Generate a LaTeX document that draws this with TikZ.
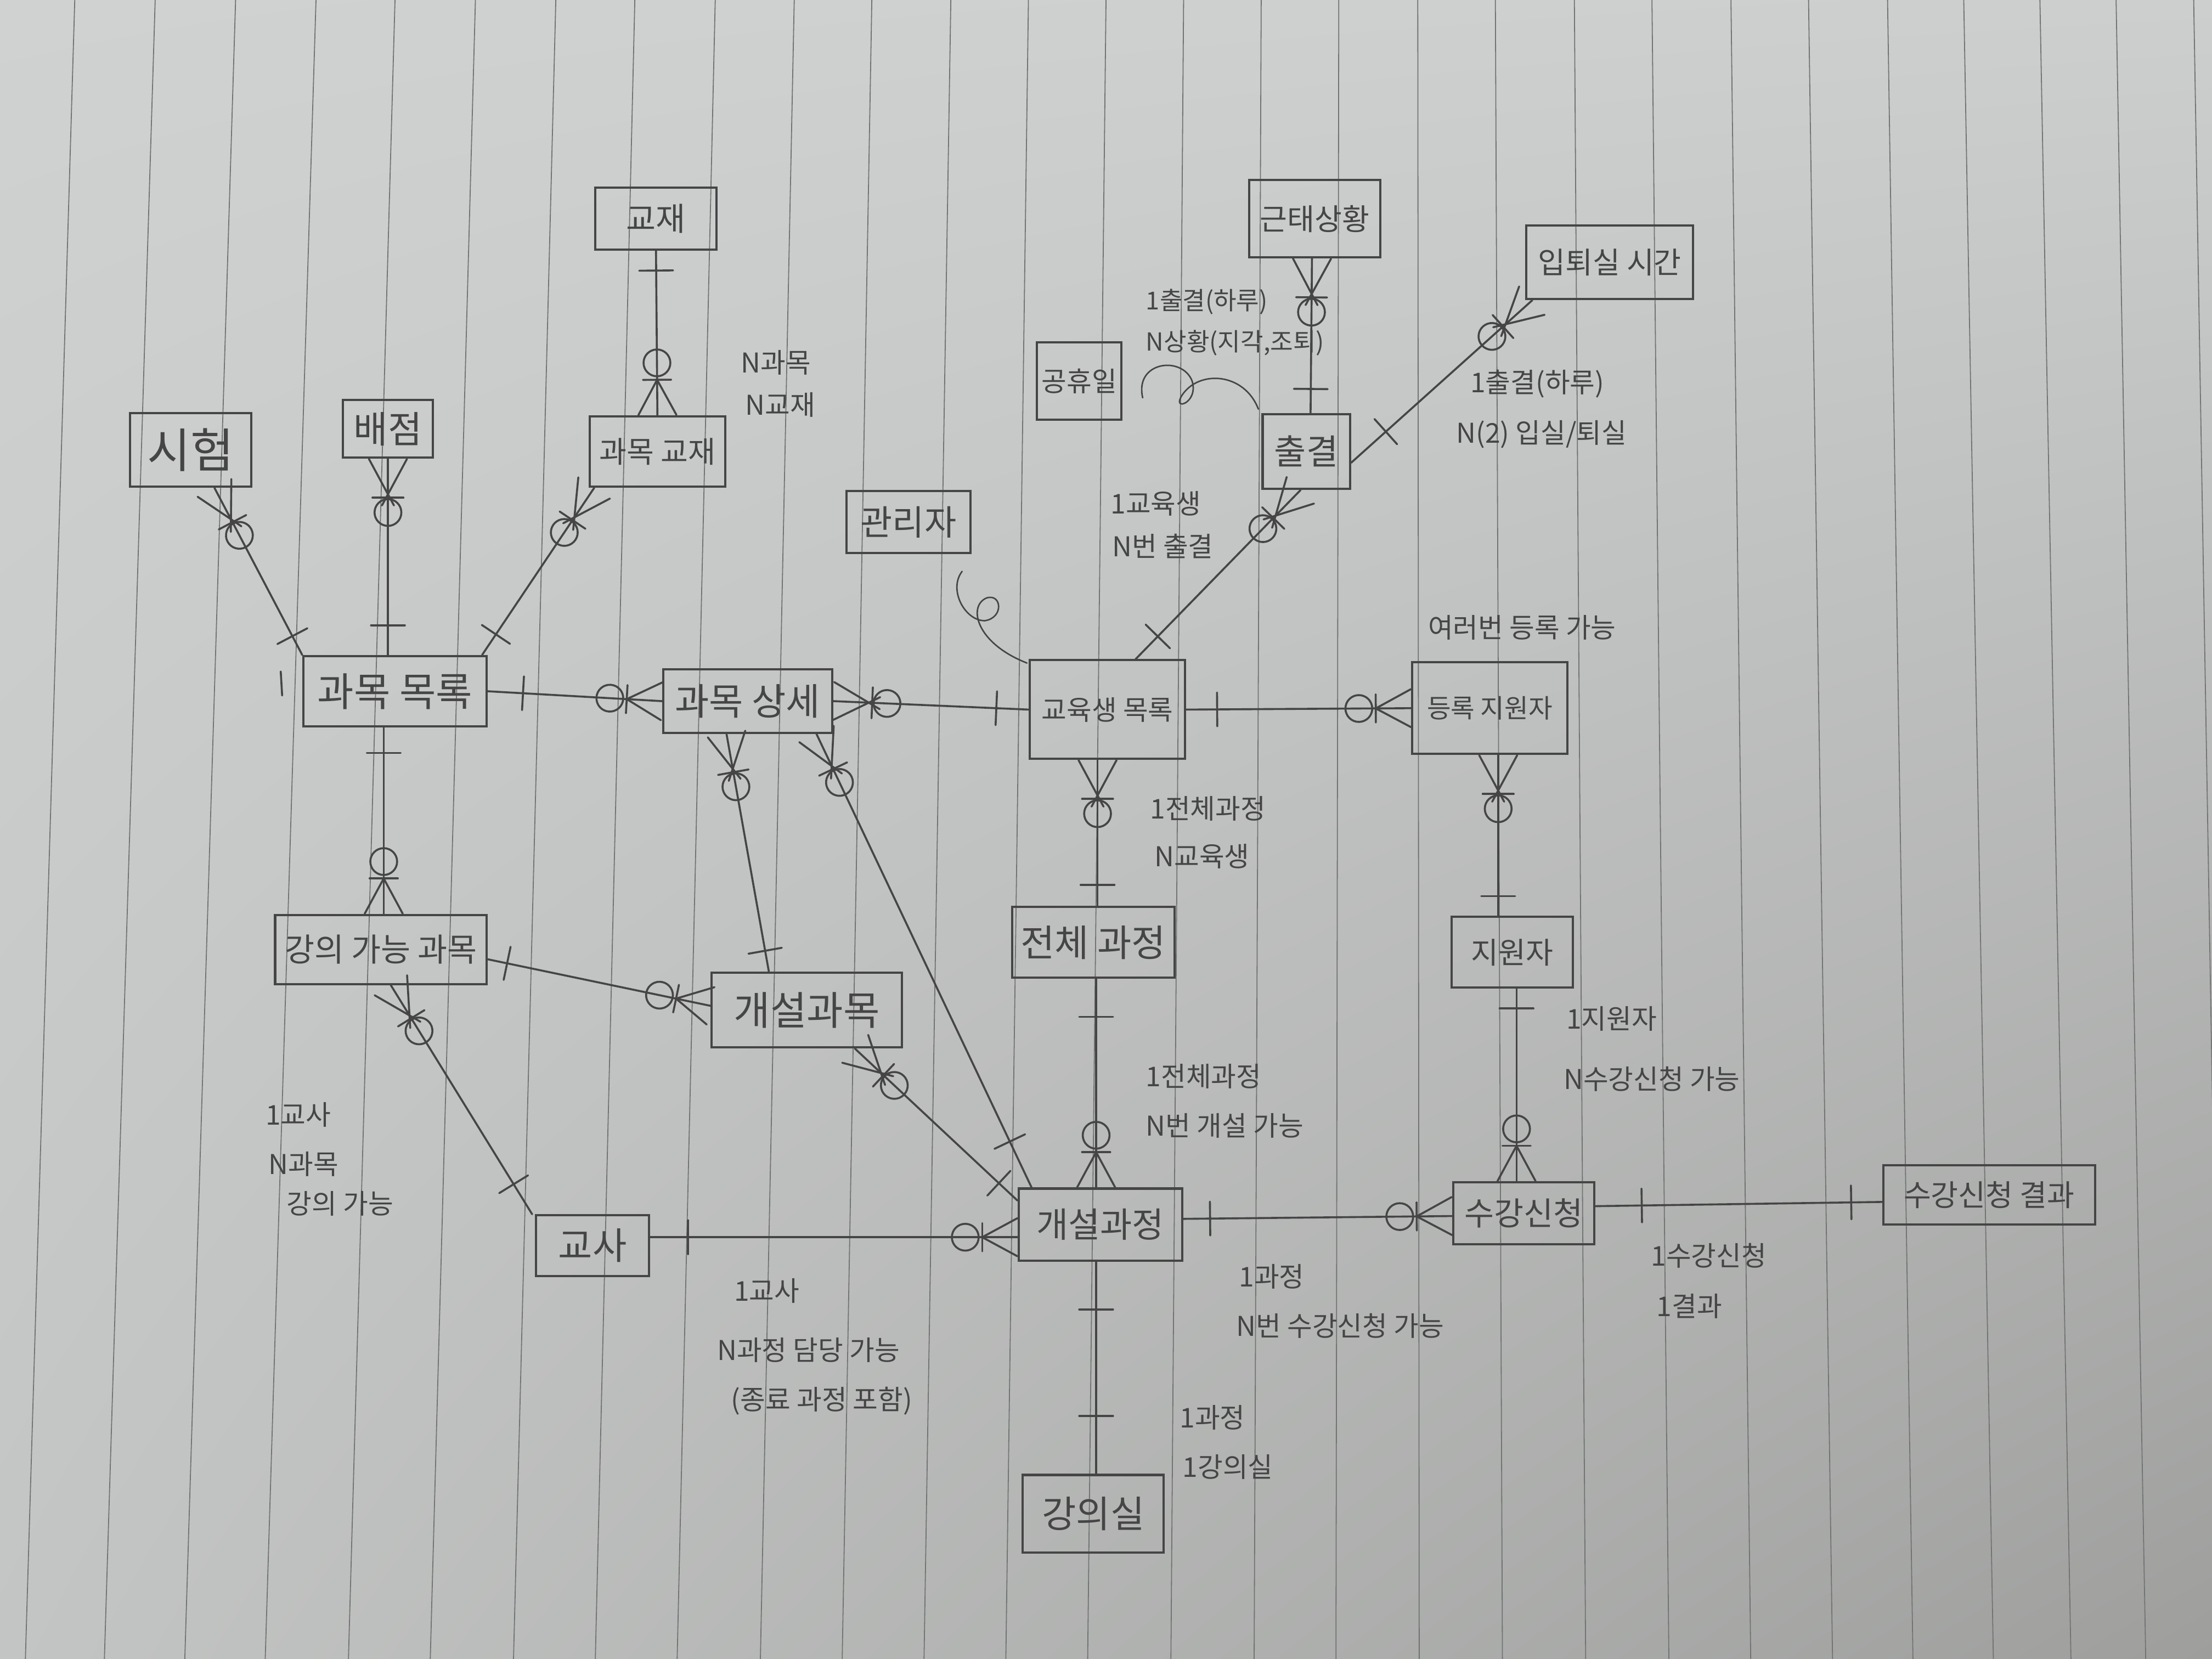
\documentclass[tikz,border=0pt]{standalone}
\usepackage{fontspec}
\setmainfont{Noto Sans CJK KR}
\usetikzlibrary{decorations.markings,calc,shadings}
\definecolor{ink}{HTML}{454545}
\definecolor{rulecol}{HTML}{727474}
\definecolor{paperA}{HTML}{D0D2D2}
\definecolor{paperB}{HTML}{CDCFCF}
\definecolor{paperC}{HTML}{C3C5C4}
\definecolor{paperD}{HTML}{9E9F9D}
\begin{document}
\begin{tikzpicture}[x=0.02cm,y=-0.02cm,
  conn/.style={draw=ink, line width=0.8pt, line cap=round},
  ent/.style={draw=ink, line width=0.9pt, inner sep=0pt, text=ink, align=center},
  fs/.style={font=\fontsize{#1pt}{#1pt}\selectfont},
  lbl/.style={anchor=west, text=ink, inner sep=0pt, font=\fontsize{11pt}{13pt}\selectfont},
  one start/.style={postaction={decorate, decoration={markings,
     mark=at position #1 with {\draw[conn] (0,-0.24cm) -- (0,0.24cm);}}}},
  one start/.default=0.5cm,
  one end/.style={postaction={decorate, decoration={markings,
     mark=at position -#1 with {\draw[conn] (0,-0.24cm) -- (0,0.24cm);}}}},
  one end/.default=0.5cm,
  zm end/.style={postaction={decorate, decoration={markings,
     mark=at position -0.74cm with {\draw[conn] (0,0) circle (0.19cm);},
     mark=at position -0.5cm with {\draw[conn] (0.5cm,0.27cm) -- (0,0) -- (0.5cm,-0.27cm);
                                   \draw[conn] (0,-0.2cm) -- (0,0.2cm);}}}},
  zmx end/.style={postaction={decorate, decoration={markings,
     mark=at position -0.76cm with {\draw[conn] (0,0) circle (0.19cm);},
     mark=at position -0.5cm with {\draw[conn] (0.5cm,0.27cm) -- (-0.16cm,-0.085cm);
                                   \draw[conn] (0.5cm,-0.27cm) -- (-0.16cm,0.085cm);
                                   \draw[conn] (-0.05cm,-0.22cm) -- (-0.05cm,0.22cm);}}}}
]
\useasboundingbox (0,0) rectangle (1568,1176);
\shade[upper left=paperA, upper right=paperB, lower left=paperC, lower right=paperD] (0,0) rectangle (1568,1176);
\begin{scope}
\clip (0,0) rectangle (1568,1176);
\foreach \a/\b in {53/18,110/74,167/131,224/188,280/247,337/305,394/364,450/422,507/480,563/539,618/597,674/655,729/713,784/771,839/830,894/889,949/947,1005/1006,1060/1065,1116/1124,1171/1183,1227/1241,1282/1299,1338/1356,1392/1413,1446/1468,1500/1521,1555/1575}
  \draw[rulecol, line width=0.4pt] (\a,0) -- (\b,1176);
\end{scope}

% entities
\node[ent, minimum width=1.72cm, minimum height=0.88cm, fs=13] (gyojae) at (465,155) {교재};
\node[ent, minimum width=1.72cm, minimum height=1.04cm, fs=19] (siheom) at (135,319) {시험};
\node[ent, minimum width=1.28cm, minimum height=0.82cm, fs=15] (baejeom) at (275,304) {배점};
\node[ent, minimum width=1.92cm, minimum height=1.0cm, fs=12] (gmgj) at (466,320) {과목 교재};
\node[ent, minimum width=1.86cm, minimum height=1.1cm, fs=12] (geuntae) at (932,155) {근태상황};
\node[ent, minimum width=2.36cm, minimum height=1.04cm, fs=12] (ipte) at (1141,186) {입퇴실 시간};
\node[ent, minimum width=1.2cm, minimum height=1.1cm, fs=11] (gonghyu) at (765,270) {공휴일};
\node[ent, minimum width=1.24cm, minimum height=1.06cm, fs=14] (chulgyeol) at (926,320) {출결};
\node[ent, minimum width=1.76cm, minimum height=0.88cm, fs=14] (admin) at (644,370) {관리자};
\node[ent, minimum width=2.6cm, minimum height=1.0cm, fs=16] (gmmr) at (280,490) {과목 목록};
\node[ent, minimum width=2.4cm, minimum height=0.9cm, fs=15] (gmsj) at (530,497) {과목 상세};
\node[ent, minimum width=2.2cm, minimum height=1.4cm, fs=11] (edu) at (785,503) {교육생 목록};
\node[ent, minimum width=2.2cm, minimum height=1.3cm, fs=10.5] (reg) at (1056,502) {등록 지원자};
\node[ent, minimum width=3.0cm, minimum height=0.98cm, fs=13] (lect) at (270,673) {강의 가능 과목};
\node[ent, minimum width=2.7cm, minimum height=1.06cm, fs=16] (opsub) at (572,716) {개설과목};
\node[ent, minimum width=2.3cm, minimum height=1.0cm, fs=15] (whole) at (775,668) {전체 과정};
\node[ent, minimum width=1.72cm, minimum height=1.0cm, fs=12] (appl) at (1072,675) {지원자};
\node[ent, minimum width=1.6cm, minimum height=0.86cm, fs=15] (teacher) at (420,883) {교사};
\node[ent, minimum width=2.32cm, minimum height=1.02cm, fs=14] (opcourse) at (780,868) {개설과정};
\node[ent, minimum width=2.0cm, minimum height=0.88cm, fs=13] (sugang) at (1080,860) {수강신청};
\node[ent, minimum width=3.0cm, minimum height=0.84cm, fs=12] (result) at (1410,847) {수강신청 결과};
\node[ent, minimum width=2.0cm, minimum height=1.1cm, fs=15] (room) at (775,1073) {강의실};

% connectors
\draw[conn, one start=0.28cm, zm end] (gyojae.south) -- (gmgj.north);
\draw[conn, one start=0.3cm, zmx end] (gmmr.north west) -- ($(siheom.south)+(17,0)$);
\draw[conn, one start=0.42cm, zmx end] ($(gmmr.north)+(-5,0)$) -- (baejeom.south);
\draw[conn, one start=0.35cm, zmx end] ($(gmmr.north east)+(-4,0)$) -- ($(gmgj.south west)+(4,0)$);
\draw[conn, one start=0.5cm, zm end] (gmmr.east) -- (gmsj.west);
\draw[conn, one start=0.36cm, zm end] ($(gmmr.south)+(-8,0)$) -- ($(lect.north)+(2,0)$);
\draw[conn, one start=0.46cm, zmx end] (edu.west) -- (gmsj.east);
\draw[conn, one start=0.3cm, zmx end] ($(opsub.north)+(-27,0)$) -- ($(gmsj.south)+(-15,0)$);
\draw[conn, one start=0.72cm, zmx end] ($(opcourse.north west)+(10,0)$) -- ($(gmsj.south east)+(-12,0)$);
\draw[conn, one start=0.45cm, zmx end] ($(edu.north)+(20,0)$) -- ($(chulgyeol.south)+(-4,0)$);
\draw[conn, one start=0.34cm, zmx end] ($(chulgyeol.north)+(3,0)$) -- ($(geuntae.south)+(-2,0)$);
\draw[conn, one start=0.66cm, zmx end] ($(chulgyeol.east)+(0,8)$) -- ($(ipte.south west)+(5,0)$);
\draw[conn, one start=0.44cm, zm end] (edu.east) -- (reg.west);
\draw[conn, one start=0.3cm, zmx end] ($(whole.north)+(3,0)$) -- ($(edu.south)+(-7,0)$);
\draw[conn, one start=0.28cm, zmx end] ($(appl.north)+(-10,0)$) -- ($(reg.south)+(6,0)$);
\draw[conn, one start=0.28cm, zm end] ($(lect.east)+(0,7)$) -- ($(opsub.west)+(0,-3)$);
\draw[conn, one start=0.5cm, zmx end] ($(teacher.north west)+(-2,0)$) -- ($(lect.south)+(7,0)$);
\draw[conn, one start=0.36cm, zmx end] ($(opcourse.west)+(0,-17)$) -- ($(opsub.south)+(34,0)$);
\draw[conn, one start=0.54cm, zm end] ($(whole.south)+(2,0)$) -- ($(opcourse.north)+(-3,0)$);
\draw[conn, one start=0.54cm, zm end] ($(teacher.east)+(0,-6)$) -- ($(opcourse.west)+(0,9)$);
\draw[conn, one start=0.38cm, zm end] ($(opcourse.east)+(0,-4)$) -- ($(sugang.west)+(0,2)$);
\draw[conn, one start=0.28cm, zm end] ($(appl.south)+(3,0)$) -- ($(sugang.north)+(-5,0)$);
\draw[conn, one start=0.66cm, one end=0.44cm] ($(sugang.east)+(0,-5)$) -- ($(result.west)+(0,5)$);
\draw[conn, one start=0.68cm, one end=0.82cm] ($(opcourse.south)+(-3,0)$) -- ($(room.north)+(2,0)$);

% curls
\draw[conn, line width=0.6pt] (810,282) .. controls (804,256) and (838,252) .. (845,270)
   .. controls (850,286) and (830,292) .. (838,280) .. controls (850,262) and (882,264) .. (892,290);
\draw[conn, line width=0.6pt] (682,405) .. controls (672,418) and (684,440) .. (698,440)
   .. controls (712,438) and (710,420) .. (699,424) .. controls (686,430) and (692,456) .. (728,470);
\draw[conn] (199,476) -- (200,493);

% annotations
\node[lbl] (a1) at (525,257) {N과목};
\node[lbl] (a2) at (528,287) {N교재};
\node[lbl, font=\fontsize{10pt}{12pt}\selectfont] (a3) at (812,214) {1출결(하루)};
\node[lbl, font=\fontsize{10pt}{12pt}\selectfont] (a4) at (812,243) {N상황(지각,조퇴)};
\node[lbl] (a5) at (1042,272) {1출결(하루)};
\node[lbl] (a6) at (1032,308) {N(2) 입실/퇴실};
\node[lbl] (a7) at (787,357) {1교육생};
\node[lbl] (a8) at (788,387) {N번 출결};
\node[lbl] (a9) at (1012,445) {여러번 등록 가능};
\node[lbl] (a10) at (815,573) {1전체과정};
\node[lbl] (a11) at (818,607) {N교육생};
\node[lbl] (a12) at (1110,722) {1지원자};
\node[lbl] (a13) at (1108,765) {N수강신청 가능};
\node[lbl] (a14) at (812,763) {1전체과정};
\node[lbl] (a15) at (812,798) {N번 개설 가능};
\node[lbl] (a16) at (188,790) {1교사};
\node[lbl] (a17) at (190,825) {N과목};
\node[lbl] (a18) at (203,853) {강의 가능};
\node[lbl] (a19) at (878,905) {1과정};
\node[lbl] (a20) at (876,940) {N번 수강신청 가능};
\node[lbl] (a21) at (1170,890) {1수강신청};
\node[lbl] (a22) at (1174,926) {1결과};
\node[lbl] (a23) at (520,915) {1교사};
\node[lbl] (a24) at (508,957) {N과정 담당 가능};
\node[lbl] (a25) at (518,993) {(종료 과정 포함)};
\node[lbl] (a26) at (836,1005) {1과정};
\node[lbl] (a27) at (838,1040) {1강의실};
\end{tikzpicture}
\end{document}
